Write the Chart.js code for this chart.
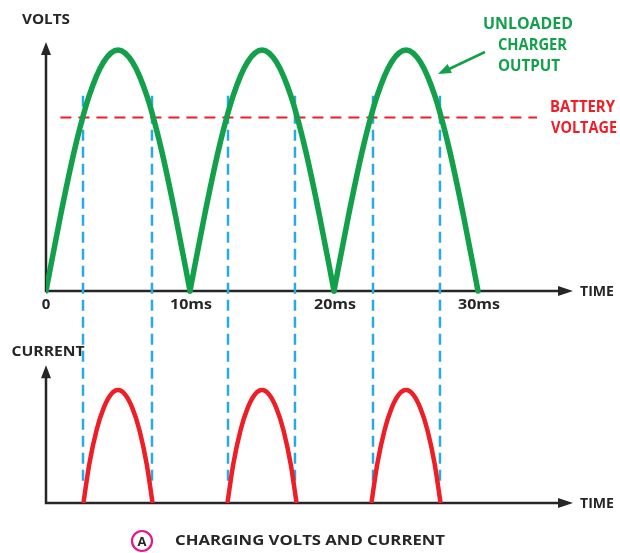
<!DOCTYPE html>
<html>
<head>
<meta charset="utf-8">
<script src="https://cdn.jsdelivr.net/npm/chart.js@4.4.1/dist/chart.umd.min.js"></script>
<style>
  html, body { margin: 0; padding: 0; background: #fff; }
  canvas { display: block; }
</style>
</head>
<body>
<canvas id="chart" width="620" height="553"></canvas>
<script>
// unloaded charger output (normalised volts), read every 1 ms
const voltTimes = [0, 1, 2, 3, 4, 5, 6, 7, 8, 9, 10,
  11, 12, 13, 14, 15, 16, 17, 18, 19, 20,
  21, 22, 23, 24, 25, 26, 27, 28, 29, 30];
const voltValues = [0, 0.31, 0.59, 0.81, 0.95, 1, 0.95, 0.81, 0.59, 0.31, 0,
  0.31, 0.59, 0.81, 0.95, 1, 0.95, 0.81, 0.59, 0.31, 0,
  0.31, 0.59, 0.81, 0.95, 1, 0.95, 0.81, 0.59, 0.31, 0];

// charging current pulses, null = no current between pulses
const currentTimes = [2.6, 3, 3.5, 4, 4.5, 5, 5.5, 6, 6.5, 7, 7.4, 10,
  12.6, 13, 13.5, 14, 14.5, 15, 15.5, 16, 16.5, 17, 17.4, 20,
  22.6, 23, 23.5, 24, 24.5, 25, 25.5, 26, 26.5, 27, 27.4];
const currentValues = [0, 0.34, 0.64, 0.84, 0.96, 1, 0.96, 0.84, 0.64, 0.34, 0, null,
  0, 0.34, 0.64, 0.84, 0.96, 1, 0.96, 0.84, 0.64, 0.34, 0, null,
  0, 0.34, 0.64, 0.84, 0.96, 1, 0.96, 0.84, 0.64, 0.34, 0];

const batteryLevel = 0.72;
const batteryFrom = 1;
const batteryTo = 34.1;

// blue guides where the output crosses the battery voltage
const crossTimes = [2.57, 7.36, 12.64, 17.29, 22.71, 27.36];
const guideTop = 0.81;
const guideBottom = -0.8;

const tickValues = [0, 10, 20, 30];
const tickLabels = ["0", "10ms", "20ms", "30ms"];

const GREEN = "#12a04b";
const RED = "#ee1d26";
const BLUE = "#29abe2";
const INK = "#262626";
const FONT = "'Open Sans', 'DejaVu Sans', sans-serif";

// split a series into separate arches
function arches(xs, ys, breakAtZero) {
  const out = [];
  let cur = [];
  xs.forEach((x, i) => {
    const y = ys[i];
    if (y === null) {
      if (cur.length) out.push(cur);
      cur = [];
      return;
    }
    cur.push({ x: x, y: y });
    if (breakAtZero && y === 0 && cur.length > 1) {
      out.push(cur);
      cur = [{ x: x, y: y }];
    }
  });
  if (cur.length > 1) out.push(cur);
  return out;
}

const datasets = [];
arches(voltTimes, voltValues, true).forEach((pts) => {
  datasets.push({
    data: pts, yAxisID: "y", borderColor: GREEN, borderWidth: 5.5,
    cubicInterpolationMode: "monotone", order: 0, borderCapStyle: "round",
  });
});
arches(currentTimes, currentValues, false).forEach((pts) => {
  datasets.push({
    data: pts, yAxisID: "yI", borderColor: RED, borderWidth: 4.5,
    cubicInterpolationMode: "monotone", order: 1,
  });
});
datasets.push({
  data: [{ x: batteryFrom, y: batteryLevel }, { x: batteryTo, y: batteryLevel }],
  yAxisID: "y", borderColor: RED, borderWidth: 2, borderDash: [11, 7], order: 2,
});
crossTimes.forEach((t) => {
  datasets.push({
    data: [{ x: t, y: guideTop }, { x: t, y: guideBottom }],
    yAxisID: "y", borderColor: BLUE, borderWidth: 2.5, borderDash: [11, 6], order: 3,
  });
});

function arrowHead(ctx, x, y, dx, dy, len, half) {
  const px = -dy, py = dx;
  ctx.beginPath();
  ctx.moveTo(x, y);
  ctx.lineTo(x - dx * len + px * half, y - dy * len + py * half);
  ctx.lineTo(x - dx * len - px * half, y - dy * len - py * half);
  ctx.closePath();
  ctx.fill();
}

// draw text squeezed/stretched to the width it has in the artwork
function fitText(ctx, text, x, y, width, align) {
  const w = ctx.measureText(text).width;
  const left = align === "center" ? x - width / 2 : x;
  ctx.save();
  ctx.textAlign = "left";
  ctx.translate(left, y);
  ctx.scale(width / w, 1);
  ctx.fillText(text, 0, 0);
  ctx.restore();
}

const schematic = {
  id: "schematic",
  beforeDatasetsDraw(chart) {
    const ctx = chart.ctx;
    const { x, y, yI } = chart.scales;
    const x0 = x.getPixelForValue(0);
    const right = chart.chartArea.right + 3;
    ctx.save();
    ctx.strokeStyle = INK;
    ctx.fillStyle = INK;
    ctx.lineWidth = 2.5;
    [[y.getPixelForValue(0), chart.chartArea.top], [yI.getPixelForValue(0), yI.getPixelForValue(1.22)]]
      .forEach(([base, tip]) => {
        ctx.beginPath();
        ctx.moveTo(x0, tip + 8);
        ctx.lineTo(x0, base);
        ctx.lineTo(right - 8, base);
        ctx.stroke();
        arrowHead(ctx, x0, tip, 0, -1, 13, 5);
        arrowHead(ctx, right, base, 1, 0, 15, 5);
      });
    ctx.restore();
  },
  afterDraw(chart) {
    const ctx = chart.ctx;
    const { x, y, yI } = chart.scales;
    const vBase = y.getPixelForValue(0);
    const iBase = yI.getPixelForValue(0);
    ctx.save();
    ctx.textBaseline = "middle";
    ctx.fillStyle = INK;
    ctx.font = "700 15px " + FONT;
    ctx.textAlign = "center";
    tickValues.forEach((v, i) => {
      const px = x.getPixelForValue(v) + (i ? 1 : 0);
      if (i) fitText(ctx, tickLabels[i], px, vBase + 14, 42, "center");
      else ctx.fillText(tickLabels[i], px, vBase + 14);
    });
    ctx.font = "700 14.5px " + FONT;
    fitText(ctx, "VOLTS", 46, 20, 48, "center");
    fitText(ctx, "CURRENT", 48, 352, 73, "center");
    fitText(ctx, "TIME", 580, vBase + 1, 34, "left");
    fitText(ctx, "TIME", 580, iBase + 1, 34, "left");

    ctx.font = "700 15.5px " + FONT;
    ctx.fillStyle = GREEN;
    fitText(ctx, "UNLOADED", 483, 25, 90, "left");
    fitText(ctx, "CHARGER", 498, 46, 69, "left");
    fitText(ctx, "OUTPUT", 498, 67, 62, "left");
    ctx.fillStyle = RED;
    fitText(ctx, "BATTERY", 550, 108, 65, "left");
    fitText(ctx, "VOLTAGE", 551, 129, 66, "left");

    // pointer to the green trace
    ctx.strokeStyle = GREEN;
    ctx.fillStyle = GREEN;
    ctx.lineWidth = 2.5;
    ctx.beginPath();
    ctx.moveTo(485, 52);
    ctx.lineTo(447, 70);
    ctx.stroke();
    const dx = 438 - 485, dy = 74 - 52, d = Math.hypot(dx, dy);
    arrowHead(ctx, 438, 74, dx / d, dy / d, 13, 5);

    // caption
    ctx.strokeStyle = "#e5168c";
    ctx.lineWidth = 2.2;
    ctx.beginPath();
    ctx.arc(142, 541, 10, 0, Math.PI * 2);
    ctx.stroke();
    ctx.fillStyle = INK;
    ctx.font = "700 13px " + FONT;
    ctx.textAlign = "center";
    ctx.fillText("A", 142, 542);
    ctx.font = "700 15px " + FONT;
    fitText(ctx, "CHARGING VOLTS AND CURRENT", 175, 541, 270, "left");
    ctx.restore();
  },
};

new Chart(document.getElementById("chart"), {
  type: "line",
  data: { datasets: datasets },
  options: {
    responsive: false,
    animation: false,
    layout: { padding: { left: 46, right: 50, top: 42, bottom: 50 } },
    elements: { point: { radius: 0 } },
    plugins: { legend: { display: false }, tooltip: { enabled: false } },
    scales: {
      x: { type: "linear", min: 0, max: 36.39, display: false },
      y: { type: "linear", min: -0.88, max: 1.033, display: false },
      yI: { type: "linear", min: 0, max: 4.08, display: false },
    },
  },
  plugins: [schematic],
});
</script>
</body>
</html>
